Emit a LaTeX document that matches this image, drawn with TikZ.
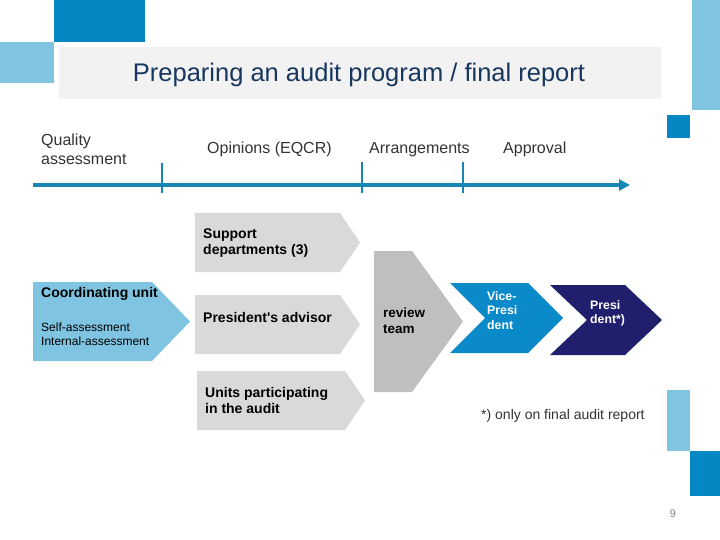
\documentclass[tikz,border=0pt]{standalone}
\usepackage{fontspec}
\setmainfont{Liberation Sans}
\usetikzlibrary{arrows.meta}
\definecolor{dblue}{RGB}{5,135,196}
\definecolor{lblue}{RGB}{127,196,225}
\definecolor{titlegray}{RGB}{242,242,242}
\definecolor{titlenavy}{RGB}{23,55,94}
\definecolor{tline}{RGB}{24,134,180}
\definecolor{chevgray}{RGB}{217,217,217}
\definecolor{revgray}{RGB}{191,191,191}
\definecolor{vpblue}{RGB}{10,138,200}
\definecolor{presnavy}{RGB}{31,31,110}
\definecolor{labelgray}{RGB}{51,51,51}
\tikzset{
  lbl/.style={inner sep=0pt, anchor=west, align=left, text=labelgray, font=\fontsize{16}{19}\selectfont},
  baselbl/.style={lbl, anchor=base west},
  boldlbl/.style={inner sep=0pt, anchor=west, align=left, text=black, font=\fontsize{14}{16}\selectfont\bfseries},
  whitelbl/.style={inner sep=0pt, anchor=west, align=left, text=white, font=\fontsize{12.3}{14.5}\selectfont\bfseries},
  tick/.style={draw=tline, line width=2.7pt},
}
\begin{document}
\begin{tikzpicture}[x=1pt,y=-1pt]
\path[use as bounding box, fill=white] (0,0) rectangle (720,540);
% decoration
\fill[dblue] (54,0) rectangle (145,42);
\fill[lblue] (0,42) rectangle (54,83);
\fill[lblue] (692,0) rectangle (720,110);
\fill[dblue] (667,115) rectangle (690,138);
\fill[lblue] (667,390) rectangle (690,451);
\fill[dblue] (690,451) rectangle (720,496);
% title
\fill[titlegray] (59,47) rectangle (661,99);
\node[inner sep=0pt, text=titlenavy, font=\fontsize{25.5}{30}\selectfont] (title) at (359,75) {Preparing an audit program / final report};
% timeline
\coordinate (tlstart) at (33,185);
\coordinate (tlend) at (630,185);
\draw[tline, line width=3.5pt, -{Triangle[length=11pt,width=11pt]}] (tlstart) -- (tlend);
\coordinate (t1a) at (162,163); \coordinate (t1b) at (162,193);
\coordinate (t2a) at (362,162); \coordinate (t2b) at (362,193);
\coordinate (t3a) at (463,162); \coordinate (t3b) at (463,193);
\draw[tick] (t1a) -- (t1b);
\draw[tick] (t2a) -- (t2b);
\draw[tick] (t3a) -- (t3b);
\node[lbl] (quality) at (41,149.5) {Quality\\assessment};
\node[baselbl] (opinions) at (207,153.8) {Opinions (EQCR)};
\node[baselbl] (arrangements) at (369,153.8) {Arrangements};
\node[baselbl] (approval) at (503,153.8) {Approval};
% chevrons
\fill[lblue] (33,282) -- (152,282) -- (190,321.5) -- (152,361) -- (33,361) -- cycle;
\fill[chevgray] (195,213) -- (340,213) -- (360,242.5) -- (340,272) -- (195,272) -- cycle;
\fill[chevgray] (195,295) -- (340,295) -- (360,324.5) -- (340,354) -- (195,354) -- cycle;
\fill[chevgray] (197,371) -- (345,371) -- (365,400.5) -- (345,430) -- (197,430) -- cycle;
\fill[revgray] (374,251) -- (412,251) -- (463,321.5) -- (412,392) -- (374,392) -- cycle;
\fill[vpblue] (450,283) -- (528,283) -- (563,318) -- (528,353) -- (450,353) -- (485,318) -- cycle;
\fill[presnavy] (550,285) -- (625,285) -- (662,320) -- (625,355) -- (550,355) -- (587,320) -- cycle;
% chevron texts
\node[boldlbl] (coord) at (41,294) {Coordinating unit};
\node[inner sep=0pt, anchor=west, align=left, font=\fontsize{12}{14}\selectfont] (selfint) at (41,334) {Self-assessment\\Internal-assessment};
\node[boldlbl] (support) at (203,243) {Support\\departments (3)};
\node[boldlbl] (advisor) at (203,317) {President\textquotesingle s advisor};
\node[boldlbl] (units) at (205,400) {Units participating\\in the audit};
\node[boldlbl, font=\fontsize{13.5}{16}\selectfont\bfseries] (review) at (383,321) {review\\team};
\node[whitelbl] (vp) at (487,310.5) {Vice-\\Presi\\dent};
\node[whitelbl, font=\fontsize{12.3}{14}\selectfont\bfseries] (pres) at (590,313) {Presi\\dent*)};
\node[inner sep=0pt, anchor=west, text=labelgray, font=\fontsize{14}{16}\selectfont] (foot) at (481,415.5) {*) only on final audit report};
\node[inner sep=0pt, text=gray, font=\fontsize{11}{13}\selectfont] (pagenum) at (673,514) {9};
\end{tikzpicture}
\end{document}
